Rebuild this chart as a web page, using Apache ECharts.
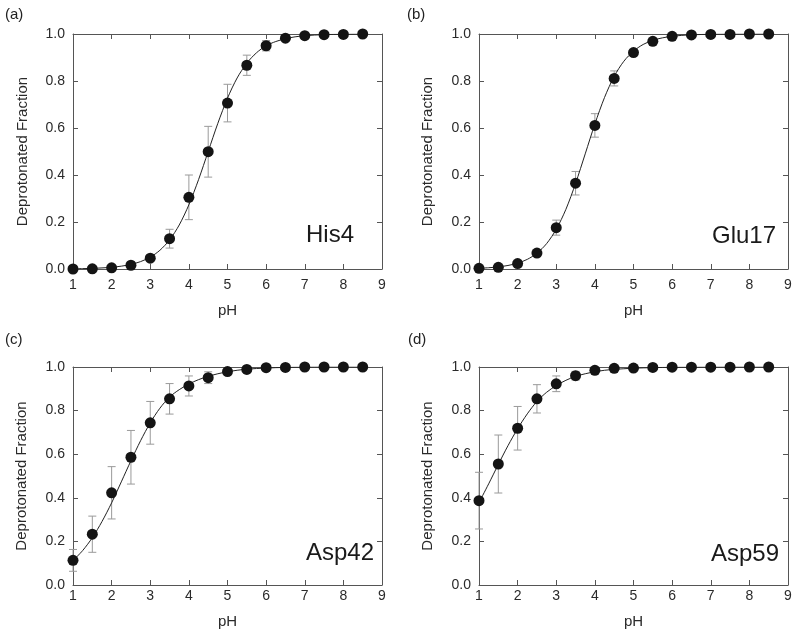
<!DOCTYPE html>
<html>
<head>
<meta charset="utf-8">
<script src="https://cdn.jsdelivr.net/npm/echarts@6/dist/echarts.min.js"></script>
<style>
  html, body { margin: 0; padding: 0; background: #fff; }
  #chart { width: 800px; height: 636px; }
</style>
</head>
<body>
<div id="chart"></div>
<script>
// ---------- data ----------
const pH = [1, 1.5, 2, 2.5, 3, 3.5, 4, 4.5, 5, 5.5, 6, 6.5, 7, 7.5, 8, 8.5];
const xTicks = [1, 2, 3, 4, 5, 6, 7, 8, 9];
const yTicks = [0.0, 0.2, 0.4, 0.6, 0.8, 1.0];

const panelLetters = ['(a)', '(b)', '(c)', '(d)'];
const residues = ['His4', 'Glu17', 'Asp42', 'Asp59'];

const his4 = [0.0, 0.001, 0.005, 0.016, 0.046, 0.129, 0.305, 0.499, 0.706, 0.867, 0.950, 0.982, 0.993, 0.997, 0.998, 1.0];
const his4Err = [0.0, 0.0, 0.004, 0.006, 0.012, 0.040, 0.095, 0.108, 0.080, 0.043, 0.022, 0.010, 0.006, 0.004, 0.003, 0.002];

const glu17 = [0.003, 0.007, 0.023, 0.068, 0.176, 0.365, 0.611, 0.811, 0.921, 0.969, 0.990, 0.996, 0.998, 0.998, 1.0, 1.0];
const glu17Err = [0.002, 0.003, 0.006, 0.010, 0.032, 0.050, 0.050, 0.032, 0.012, 0.006, 0.004, 0.003, 0.003, 0.002, 0.002, 0.001];

const asp42 = [0.113, 0.233, 0.423, 0.586, 0.744, 0.854, 0.913, 0.951, 0.979, 0.989, 0.997, 0.998, 1.0, 1.0, 1.0, 1.0];
const asp42Err = [0.050, 0.083, 0.120, 0.123, 0.098, 0.070, 0.046, 0.027, 0.012, 0.007, 0.004, 0.003, 0.002, 0.002, 0.002, 0.001];

const asp59 = [0.387, 0.555, 0.719, 0.854, 0.923, 0.960, 0.985, 0.994, 0.995, 0.998, 0.999, 0.999, 0.999, 0.999, 1.0, 1.0];
const asp59Err = [0.130, 0.133, 0.100, 0.065, 0.036, 0.020, 0.010, 0.006, 0.005, 0.004, 0.003, 0.003, 0.003, 0.002, 0.002, 0.002];

// fitted curves at pH steps of 0.25
const fitPH = [1, 1.25, 1.5, 1.75, 2, 2.25, 2.5, 2.75, 3, 3.25, 3.5, 3.75, 4, 4.25, 4.5, 4.75,
               5, 5.25, 5.5, 5.75, 6, 6.25, 6.5, 6.75, 7, 7.25, 7.5, 7.75, 8, 8.25, 8.5];
const his4Fit = [0.001, 0.0017, 0.0028, 0.0046, 0.0074, 0.0121, 0.0196, 0.0315, 0.0504, 0.0797, 0.1238, 0.1873, 0.2732, 0.380, 0.500, 0.620,
                 0.727, 0.813, 0.876, 0.920, 0.950, 0.968, 0.980, 0.988, 0.9926, 0.9955, 0.9972, 0.9983, 0.9989, 0.9993, 0.9996];
const glu17Fit = [0.0032, 0.0054, 0.0090, 0.015, 0.0249, 0.041, 0.067, 0.108, 0.169, 0.254, 0.364, 0.490, 0.617, 0.730, 0.820, 0.884,
                  0.927, 0.9555, 0.973, 0.9837, 0.990, 0.9942, 0.9965, 0.9979, 0.9988, 0.9993, 0.9996, 0.9997, 0.9998, 0.9999, 0.9999];
const asp42Fit = [0.112, 0.158, 0.217, 0.291, 0.377, 0.473, 0.570, 0.662, 0.744, 0.811, 0.862, 0.896, 0.922, 0.942, 0.957, 0.969,
                  0.978, 0.985, 0.990, 0.993, 0.995, 0.997, 0.998, 0.999, 0.999, 1.0, 1.0, 1.0, 1.0, 1.0, 1.0];
const asp59Fit = [0.378, 0.464, 0.553, 0.639, 0.717, 0.785, 0.842, 0.884, 0.915, 0.939, 0.957, 0.969, 0.978, 0.985, 0.989, 0.992,
                  0.9945, 0.996, 0.997, 0.998, 0.9987, 0.999, 0.9993, 0.9995, 0.9997, 0.9998, 0.9999, 1.0, 1.0, 1.0, 1.0];

const values = [his4, glu17, asp42, asp59];
const errors = [his4Err, glu17Err, asp42Err, asp59Err];
const fits = [his4Fit, glu17Fit, asp42Fit, asp59Fit];

// ---------- layout ----------
const FONT = '"Liberation Sans", Arial, Helvetica, sans-serif';
const grids = [
  { left: 73, top: 34, width: 309, height: 235 },
  { left: 479, top: 34, width: 309, height: 235 },
  { left: 73, top: 367, width: 309, height: 218 },
  { left: 479, top: 367, width: 309, height: 218 }
];
const xLabelMargin = [9, 9, 4, 4];
const xNameGap = [34, 34, 29, 29];
const yNameGap = [43, 44, 44, 44];
const letterPos = [[5, 7], [407, 7], [5, 332], [408, 332]];
const residuePos = [[306, 235], [712, 236], [306, 553], [711, 554]];

const axisColor = '#555';
const textColor = '#2a2a2a';

const xAxes = [], yAxes = [], series = [], graphics = [];

grids.forEach((g, i) => {
  const base = {
    type: 'value', gridIndex: i, min: 1, max: 9, interval: 1,
    axisLine: { show: true, onZero: false, lineStyle: { color: axisColor, width: 1 } },
    splitLine: { show: false }
  };
  xAxes.push(Object.assign({}, base, {
    position: 'bottom',
    name: 'pH', nameLocation: 'middle', nameGap: xNameGap[i],
    nameTextStyle: { fontFamily: FONT, fontSize: 15, color: textColor },
    axisLabel: { show: true, margin: xLabelMargin[i], fontFamily: FONT, fontSize: 14, color: textColor,
                 customValues: xTicks },
    axisTick: { show: true, inside: true, length: 5, lineStyle: { color: axisColor }, customValues: xTicks }
  }));
  xAxes.push(Object.assign({}, base, {
    position: 'top', axisLabel: { show: false },
    axisTick: { show: true, inside: true, length: 5, lineStyle: { color: axisColor }, customValues: xTicks }
  }));
  const ybase = {
    type: 'value', gridIndex: i, min: 0, max: 1, interval: 0.2,
    axisLine: { show: true, onZero: false, lineStyle: { color: axisColor, width: 1 } },
    splitLine: { show: false }
  };
  yAxes.push(Object.assign({}, ybase, {
    position: 'left',
    name: 'Deprotonated Fraction', nameLocation: 'middle', nameGap: yNameGap[i],
    nameTextStyle: { fontFamily: FONT, fontSize: 15, color: textColor },
    axisLabel: { show: true, margin: 8, fontFamily: FONT, fontSize: 14, color: textColor,
                 customValues: yTicks, formatter: v => v.toFixed(1) },
    axisTick: { show: true, inside: true, length: 5, lineStyle: { color: axisColor }, customValues: yTicks }
  }));
  yAxes.push(Object.assign({}, ybase, {
    position: 'right', axisLabel: { show: false },
    axisTick: { show: true, inside: true, length: 5, lineStyle: { color: axisColor }, customValues: yTicks }
  }));

  const xi = i * 2, yi = i * 2;

  // error bars
  series.push({
    type: 'custom', xAxisIndex: xi, yAxisIndex: yi, z: 1,
    data: pH.map((x, k) => [x, values[i][k], errors[i][k]]),
    encode: { x: 0, y: 1 },
    renderItem: function (params, api) {
      const x = api.value(0), y = api.value(1), e = api.value(2);
      const hi = api.coord([x, y + e]);
      const lo = api.coord([x, y - e]);
      const hw = 4;
      const style = { stroke: '#9a9a9a', lineWidth: 1 };
      return {
        type: 'group',
        children: [
          { type: 'line', shape: { x1: hi[0], y1: hi[1], x2: lo[0], y2: lo[1] }, style: style },
          { type: 'line', shape: { x1: hi[0] - hw, y1: hi[1], x2: hi[0] + hw, y2: hi[1] }, style: style },
          { type: 'line', shape: { x1: lo[0] - hw, y1: lo[1], x2: lo[0] + hw, y2: lo[1] }, style: style }
        ]
      };
    },
    silent: true
  });
  // fitted curve
  series.push({
    type: 'line', xAxisIndex: xi, yAxisIndex: yi, z: 2,
    data: fitPH.map((x, k) => [x, fits[i][k]]),
    smooth: 0.3, showSymbol: false, symbol: 'none',
    lineStyle: { color: '#222', width: 1 },
    silent: true, animation: false
  });
  // points
  series.push({
    type: 'scatter', xAxisIndex: xi, yAxisIndex: yi, z: 3,
    data: pH.map((x, k) => [x, values[i][k]]),
    symbol: 'circle', symbolSize: 11,
    itemStyle: { color: '#141414', opacity: 1 },
    clip: false, silent: true
  });

  graphics.push({
    type: 'text', left: letterPos[i][0], top: letterPos[i][1],
    style: { text: panelLetters[i], font: '15px ' + FONT, fill: '#222' }
  });
  graphics.push({
    type: 'text', x: residuePos[i][0], y: residuePos[i][1],
    style: { text: residues[i], font: '24px ' + FONT, fill: '#1a1a1a', textVerticalAlign: 'middle', verticalAlign: 'middle' }
  });
});

const chart = echarts.init(document.getElementById('chart'), null, { renderer: 'canvas' });
chart.setOption({
  animation: false,
  backgroundColor: '#ffffff',
  textStyle: { fontFamily: FONT },
  grid: grids.map(g => Object.assign({ containLabel: false }, g)),
  xAxis: xAxes,
  yAxis: yAxes,
  series: series,
  graphic: graphics
});
</script>
</body>
</html>
